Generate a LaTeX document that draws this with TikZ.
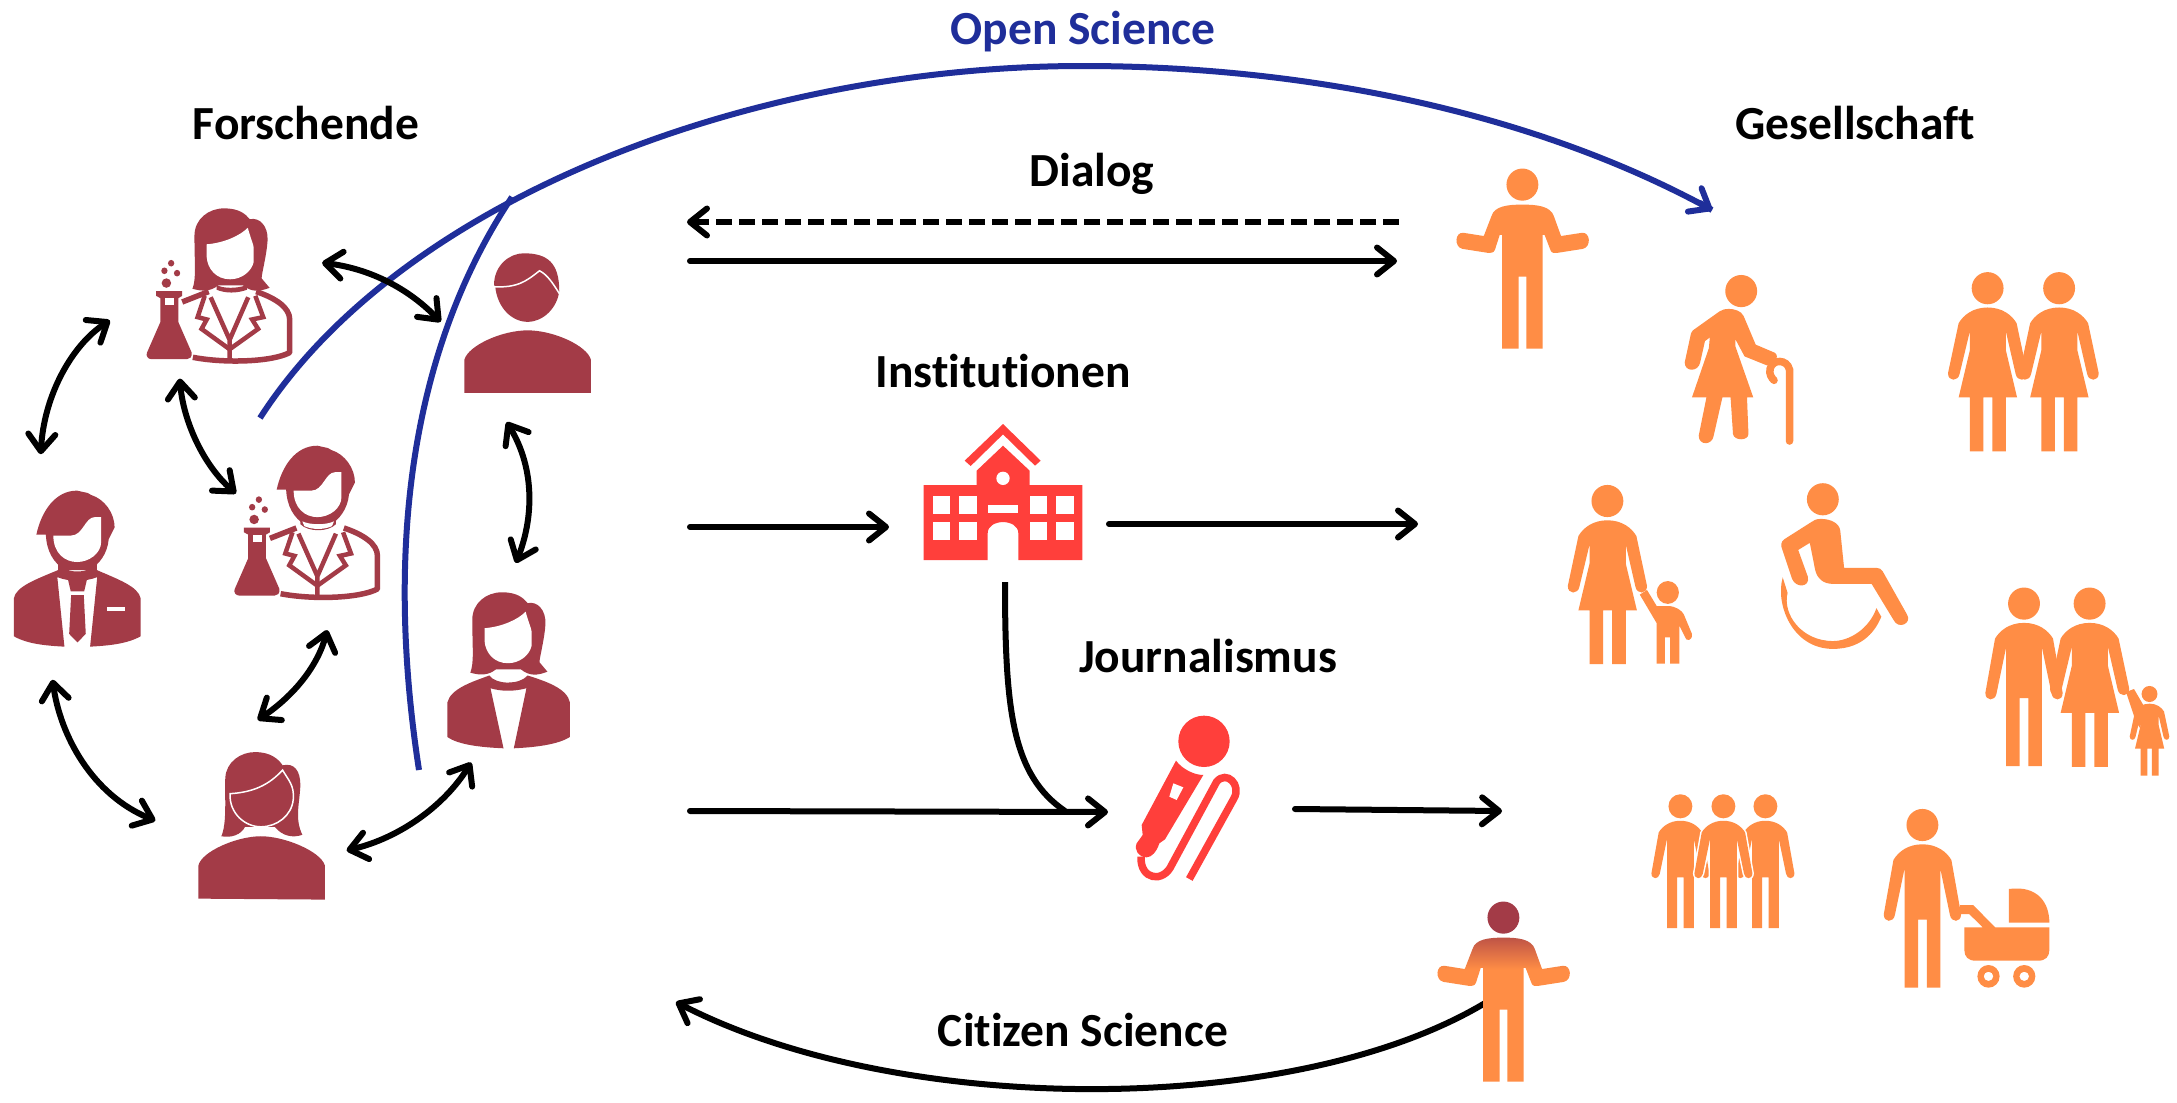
\documentclass[tikz,border=0pt]{standalone}
\usepackage{fontspec}
\setmainfont[Ligatures=NoCommon]{Carlito}
\usetikzlibrary{arrows.meta}
\definecolor{wine}{HTML}{A33B47}
\definecolor{orangeC}{HTML}{FF8D45}
\definecolor{redC}{HTML}{FF3F3B}
\definecolor{blueC}{HTML}{1F2E9A}
\pgfdeclareverticalshading{citizenshade}{100bp}{color(0bp)=(orangeC); color(64bp)=(orangeC); color(75bp)=(wine!70!orangeC); color(100bp)=(wine!70!orangeC)}
\tikzset{
  label/.style={font=\fontsize{47.5}{47.5}\selectfont\bfseries,text=black,inner sep=0pt},
  arr/.style={line width=6pt,-{Straight Barb[length=17pt,width=27pt,round]},line cap=round},
  darr/.style={line width=6pt,{Straight Barb[length=17pt,width=27pt,round]}-{Straight Barb[length=17pt,width=27pt,round]},line cap=round},
  bluel/.style={draw=blueC,line width=6pt},
  zone/.style={shift={(0,180)},xscale=1/2.53,yscale=1/2.115},
  ztwo/.style={shift={(1420,150)},xscale=1/2.07,yscale=1/2.8},
  zthree/.style={shift={(1420,700)},xscale=1/2.07,yscale=1/3},
  zfour/.style={shift={(880,400)},scale=1/3}
}
% -- orange figures; local origin = head centre, units of the 2.07 x 2.8 grid
\newcommand{\figscope}[3]{\begin{scope}[shift={(#1,#2)},xscale=#3/2.07,yscale=#3/2.8]}
\newcommand{\dresspath}{(0,54) .. controls (-30,54) and (-50,75) .. (-60,98) -- (-82,238) .. controls (-82,262) and (-61,262) .. (-58,240) -- (-37,122) -- (-37,175) -- (-60,306) -- (-37,306) -- (-37,457) -- (-9,457) -- (-9,306) -- (10,306) -- (10,457) -- (38,457) -- (38,306) -- (61,306) -- (38,175) -- (38,122) -- (58,240) .. controls (61,262) and (82,262) .. (82,238) -- (60,98) .. controls (50,75) and (30,54) .. (0,54) -- cycle}
\newcommand{\manpath}{(0,54) .. controls (-30,54) and (-50,75) .. (-60,98) -- (-80,250) .. controls (-80,274) and (-60,274) .. (-57,252) -- (-37,122) -- (-37,455) -- (-9,455) -- (-9,265) -- (9,265) -- (9,455) -- (37,455) -- (37,122) -- (57,252) .. controls (60,274) and (80,274) .. (80,250) -- (60,98) .. controls (50,75) and (30,54) .. (0,54) -- cycle}
\newcommand{\shrugpath}{(-42,459) -- (-42,141) -- (-47,141) -- (-57,183) .. controls (-60,192) and (-66,192) .. (-72,191) -- (-124,180) .. controls (-142,175) and (-140,132) .. (-122,135) -- (-80,144) -- (-64,88) .. controls (-58,60) and (-30,56) .. (0,56) .. controls (30,56) and (58,60) .. (65,88) -- (80,144) -- (123,135) .. controls (141,132) and (143,175) .. (125,180) -- (73,191) .. controls (65,192) and (60,192) .. (58,183) -- (46,141) -- (42,141) -- (42,459) -- (8,459) -- (8,258) -- (-8,258) -- (-8,459) -- cycle}
\newcommand{\womanfig}[3]{\figscope{#1}{#2}{#3}\fill[orangeC] (0,0) ellipse (33 and 45); \fill[orangeC] \dresspath;\end{scope}}
\newcommand{\manfig}[3]{\figscope{#1}{#2}{#3}\fill[orangeC] (0,0) ellipse (33 and 45); \fill[orangeC] \manpath;\end{scope}}
% -- researchers
\newcommand{\labcoat}{%
  \draw[wine,line width=5.5pt,line join=round] (683,758) -- (750,736) (870,736) .. controls (920,750) and (955,770) .. (955,795) -- (955,865) .. controls (910,885) and (790,888) .. (710,875);
  \draw[wine,line width=4.5pt,line join=miter] (755,748) -- (803,838) -- (850,748) (803,838) -- (803,882);
  \draw[wine,line width=4.5pt,line join=miter] (740,745) -- (722,790) -- (745,795) -- (732,815) -- (803,858) -- (875,815) -- (860,795) -- (888,790) -- (868,745);
  \fill[wine] (617,735) -- (683,735) -- (683,745) -- (673,750) -- (673,800) -- (707,865) .. controls (708,875) and (702,879) .. (695,879) -- (605,879) .. controls (597,879) and (590,872) .. (594,865) -- (628,800) -- (628,750) -- (617,745) -- cycle;
  \fill[white] (639,750) rectangle (662,765);
  \fill[wine] (643,718) ellipse (12 and 10) (638,692) ellipse (8 and 7) (670,697) ellipse (8 and 7) (655,676) ellipse (8 and 7);
}
\newcommand{\manhead}{%
  \fill[wine] (92,750) .. controls (105,700) and (140,657) .. (195,657) -- (222,662) -- (230,666) .. controls (265,675) and (290,705) .. (290,735) -- (275,760) .. controls (272,790) and (250,815) .. (225,825) -- (165,825) .. controls (135,810) and (118,785) .. (116,750) -- cycle;
  \fill[white] (135,752) -- (180,752) .. controls (210,752) and (215,713) .. (240,713) -- (256,713) -- (256,765) .. controls (256,790) and (225,808) .. (195,808) .. controls (165,808) and (135,790) .. (135,752) -- cycle;
}
\newcommand{\womanhead}{%
  \fill[wine] (1190,1042) .. controls (1200,1020) and (1195,990) .. (1195,930) .. controls (1195,895) and (1230,872) .. (1270,872) .. controls (1310,872) and (1325,885) .. (1335,895) .. controls (1360,890) and (1382,910) .. (1380,940) .. controls (1378,970) and (1365,1010) .. (1365,1020) -- (1385,1040) .. controls (1360,1048) and (1340,1050) .. (1318,1035) -- (1255,1035) .. controls (1235,1048) and (1215,1048) .. (1190,1042) -- cycle;
  \fill[white] (1226,948) .. controls (1270,945) and (1310,930) .. (1330,913) .. controls (1335,930) and (1345,950) .. (1345,955) -- (1345,985) .. controls (1340,1005) and (1315,1022) .. (1285,1022) .. controls (1250,1022) and (1228,1000) .. (1226,975) -- cycle;
}
\begin{document}
\begin{tikzpicture}[x=1pt,y=-1pt]
\useasboundingbox (0,0) rectangle (2177,1103);
\fill[white] (0,0) rectangle (2177,1103);
% --- coordinates for connectors
\coordinate (openA) at (260,418);
\coordinate (openB) at (1083,66);
\coordinate (openC) at (1712,210);
\coordinate (wallA) at (419,770);
\coordinate (wallB) at (512,197);
\begin{scope}[zone]
\coordinate (a1) at (278,297); \coordinate (a2) at (103,580);
\coordinate (b1) at (815,175); \coordinate (b2) at (1115,300);
\coordinate (c1) at (455,420); \coordinate (c2) at (597,663);
\coordinate (d1) at (1282,512); \coordinate (d2) at (1305,810);
\coordinate (e1) at (828,952); \coordinate (e2) at (652,1142);
\coordinate (f1) at (133,1057); \coordinate (f2) at (393,1355);
\coordinate (g1) at (1192,1232); \coordinate (g2) at (877,1418);
% suit man
\manhead
\fill[wine] (35,965) -- (35,885) .. controls (40,860) and (90,845) .. (147,825) -- (147,808) -- (165,822) .. controls (180,830) and (210,830) .. (228,822) -- (245,808) -- (245,825) .. controls (300,845) and (350,860) .. (356,885) -- (356,965) .. controls (320,982) and (270,985) .. (228,987) -- (246,840) .. controls (215,850) and (175,850) .. (145,840) -- (163,987) .. controls (120,985) and (70,982) .. (35,965) -- cycle;
\fill[wine] (172,845) -- (220,845) -- (213,870) -- (179,870) -- cycle;
\fill[wine] (180,878) -- (212,878) -- (217,960) -- (196,978) -- (175,960) -- cycle;
\fill[white] (271,903) rectangle (316,912);
% male scientist
\begin{scope}[shift={(608,-95)}]\manhead\end{scope}
\labcoat
\fill[wine] (760,715) -- (850,715) -- (850,728) .. controls (830,745) and (780,745) .. (760,728) -- cycle;
\fill[white] (765,722) .. controls (785,730) and (825,730) .. (845,722) -- (840,732) .. controls (820,740) and (790,740) .. (770,732) -- cycle;
% female scientist
\begin{scope}[shift={(-703,-812)}]\womanhead\end{scope}
\begin{scope}[shift={(-222,-500)}]\labcoat\end{scope}
\fill[wine] (548,222) .. controls (565,230) and (600,230) .. (625,222) -- (625,232) .. controls (600,240) and (570,240) .. (548,232) -- cycle;
% jacket woman
\womanhead
\fill[wine] (1132,1178) -- (1132,1105) .. controls (1140,1075) and (1200,1060) .. (1238,1048) .. controls (1255,1068) and (1315,1068) .. (1335,1048) .. controls (1380,1060) and (1435,1075) .. (1442,1105) -- (1442,1178) .. controls (1410,1195) and (1350,1200) .. (1300,1202) -- (1332,1075) .. controls (1300,1082) and (1270,1082) .. (1241,1075) -- (1274,1202) .. controls (1220,1200) and (1160,1195) .. (1132,1178) -- cycle;
% plain man
\fill[wine] (1175,450) -- (1175,380) .. controls (1185,350) and (1270,318) .. (1335,318) .. controls (1400,318) and (1485,350) .. (1495,380) -- (1495,450) -- cycle;
\fill[wine] (1250,222) .. controls (1250,180) and (1290,155) .. (1325,155) .. controls (1385,155) and (1415,175) .. (1415,235) .. controls (1410,270) and (1375,300) .. (1335,300) .. controls (1295,300) and (1258,270) .. (1253,225) -- cycle;
\draw[white,line width=1.5pt] (1247,226) .. controls (1310,228) and (1330,215) .. (1365,192) .. controls (1385,200) and (1400,220) .. (1415,240);
% plain woman
\fill[wine] (502,1520) -- (502,1450) .. controls (510,1420) and (600,1388) .. (660,1388) .. controls (720,1388) and (812,1420) .. (822,1450) -- (822,1522) -- cycle;
\fill[wine] (560,1388) .. controls (575,1360) and (568,1300) .. (570,1265) .. controls (572,1230) and (610,1210) .. (645,1210) .. controls (685,1210) and (705,1225) .. (715,1238) .. controls (745,1232) and (760,1250) .. (760,1280) .. controls (758,1320) and (745,1350) .. (765,1385) .. controls (740,1392) and (715,1388) .. (695,1368) -- (620,1368) .. controls (610,1385) and (585,1392) .. (560,1388) -- cycle;
\draw[white,line width=1.5pt] (582,1298) .. controls (640,1295) and (680,1280) .. (715,1248) .. controls (730,1270) and (745,1280) .. (742,1310) .. controls (738,1345) and (700,1368) .. (660,1368) .. controls (620,1368) and (580,1340) .. (582,1298) -- cycle;
\end{scope}
% --- connectors among researchers
\draw[bluel] (openA) .. controls (400,200) and (750,66) .. (openB) .. controls (1300,66) and (1530,110) .. (openC);
\draw[bluel] (wallA) .. controls (385,550) and (410,350) .. (wallB);
\draw[blueC,line width=6pt,line cap=round,-{Straight Barb[length=17pt,width=27pt,round]}] (1700,203) -- (openC);
\draw[darr] (a1) .. controls (72,345) and (44,395) .. (a2);
\draw[darr] (b1) .. controls (365,268) and (405,285) .. (b2);
\draw[darr] (c1) .. controls (183,420) and (203,465) .. (c2);
\draw[darr] (d1) .. controls (536,470) and (533,520) .. (d2);
\draw[darr] (e1) .. controls (318,665) and (295,695) .. (e2);
\draw[darr] (f1) .. controls (60,735) and (92,795) .. (f2);
\draw[darr] (g1) .. controls (445,805) and (400,838) .. (g2);
% --- labels
\node[label,text=blueC] (openl) at (1083,32) {Open Science};
\node[label] (forsch) at (306,123) {Forschende};
\node[label] (gesell) at (1855,123) {Gesellschaft};
\node[label] (dialog) at (1092,174) {Dialog};
\node[label] (instit) at (1003,371) {Institutionen};
\node[label] (journ) at (1208,656) {Journalismus};
\node[label] (citiz) at (1083,1030) {Citizen Science};
% --- middle arrows
\coordinate (dlA) at (1399,222); \coordinate (dlB) at (687,222);
\coordinate (drA) at (690,261); \coordinate (drB) at (1397,261);
\coordinate (inA) at (690,527); \coordinate (inB) at (889,527);
\coordinate (outA) at (1109,524); \coordinate (outB) at (1418,524);
\coordinate (joA) at (690,811); \coordinate (joB) at (1108,812);
\coordinate (bendA) at (1005,582); \coordinate (bendB) at (1065,811);
\coordinate (goA) at (1295,809); \coordinate (goB) at (1502,811);
\coordinate (csA) at (1490,1000); \coordinate (csB) at (676,1002);
\draw[arr,line cap=butt,dash pattern=on 16pt off 7pt] (dlA) -- (dlB);
\draw[arr] (drA) -- (drB);
\draw[arr] (inA) -- (inB);
\draw[arr] (outA) -- (outB);
\draw[arr] (joA) -- (joB);
\draw[line width=6pt] (bendA) .. controls (1005,710) and (1012,775) .. (bendB);
\draw[arr] (goA) -- (goB);
\draw[arr] (csA) .. controls (1300,1118) and (900,1118) .. (csB);
% --- school
\begin{scope}[zfour]
\fill[redC] (369,72) -- (482,182) -- (465,197) -- (369,103) -- (272,198) -- (254,182) -- cycle;
\fill[redC] (131,255) -- (290,255) -- (290,212) -- (369,137) -- (449,212) -- (449,255) -- (607,255) -- (607,480) -- (415,480) -- (415,400) .. controls (415,355) and (323,355) .. (323,400) -- (323,480) -- (131,480) -- cycle;
\fill[white] (369,235) circle (20);
\foreach \wx in {158,237,449,528}{\foreach \wy in {288,367}{\fill[white] (\wx,\wy) rectangle ++(53,53);}}
\fill[white] (323,314) rectangle (415,340);
% microphone
\fill[redC] (972,1024) circle (77);
\fill[redC] (888,1082) .. controls (905,1105) and (940,1125) .. (970,1125) -- (855,1318) -- (838,1330) .. controls (830,1355) and (815,1372) .. (800,1372) .. controls (775,1372) and (762,1350) .. (770,1330) -- (788,1305) -- (785,1275) -- cycle;
\fill[white] (880,1150) -- (910,1162) -- (890,1200) -- (868,1190) -- cycle;
\draw[redC,line width=7.5pt] (928,1437) -- (1062,1195) .. controls (1085,1155) and (1040,1110) .. (1010,1145) -- (875,1395) .. controls (850,1450) and (780,1440) .. (783,1370);
\end{scope}
% --- society
\figscope{1522.4}{184.6}{1}
\fill[orangeC] (0,0) ellipse (33 and 45); \fill[orangeC] \shrugpath;
\end{scope}
\begin{scope}[ztwo]
% old woman
\fill[orangeC] (665,395) ellipse (33 and 45);
\fill[orangeC] (640,445) .. controls (632,445) and (625,447) .. (620,452) -- (565,505) .. controls (562,510) and (560,515) .. (560,520) -- (548,595) .. controls (548,622) and (576,622) .. (580,595) -- (590,535) -- (600,525) -- (598,555) -- (563,693) -- (593,693) -- (577,800) .. controls (577,828) and (605,828) .. (608,800) -- (626,693) -- (643,693) -- (648,795) .. controls (650,815) and (680,815) .. (680,795) -- (677,693) -- (690,693) -- (653,550) -- (653,530) -- (672,578) -- (718,603) .. controls (735,600) and (745,580) .. (735,568) -- (695,545) -- (670,465) .. controls (665,450) and (650,445) .. (640,445) -- cycle;
\draw[orangeC,line width=7.5pt,line cap=round] (765,815) -- (765,615) .. controls (760,585) and (730,585) .. (725,612) .. controls (722,628) and (728,638) .. (733,645);
% wheelchair
\fill[orangeC] (834,978) ellipse (33 and 45);
\fill[orangeC] (830,1033) .. controls (820,1033) and (815,1037) .. (810,1042) -- (760,1085) .. controls (750,1092) and (747,1100) .. (748,1110) -- (770,1200) .. controls (778,1228) and (808,1225) .. (803,1195) -- (783,1120) -- (807,1100) -- (818,1175) .. controls (822,1200) and (835,1215) .. (855,1215) -- (935,1215) -- (980,1315) .. controls (990,1345) and (1020,1325) .. (1008,1300) -- (958,1180) .. controls (955,1174) and (952,1170) .. (945,1170) -- (878,1170) -- (870,1065) .. controls (868,1045) and (850,1033) .. (830,1033) -- cycle;
\fill[orangeC] (751,1197) .. controls (735,1270) and (770,1397) .. (855,1397) .. controls (920,1397) and (945,1340) .. (955,1307) -- (945,1283) .. controls (930,1340) and (890,1375) .. (855,1375) .. controls (790,1375) and (750,1300) .. (761,1240) -- cycle;
% child of first group
\fill[orangeC] (513,1239) ellipse (23 and 32);
\fill[orangeC] (470,1232) -- (490,1277) -- (513,1277) .. controls (530,1277) and (542,1290) .. (546,1300) -- (563,1355) .. controls (565,1375) and (550,1378) .. (548,1362) -- (537,1332) -- (537,1438) -- (518,1438) -- (518,1365) -- (507,1365) -- (507,1438) -- (490,1438) -- (490,1325) -- (455,1245) -- cycle;
\end{scope}
\womanfig{1987.6}{288.2}{1}
\womanfig{2059.1}{288.2}{1}
\womanfig{1607.4}{501}{1}
\manfig{2024}{603.6}{1}
\womanfig{2089.6}{603.6}{1}
\womanfig{2149.5}{694}{0.5}
\fill[orangeC] (2126,692) -- (2134,689) -- (2145,708) -- (2140,728) -- (2136,722) -- cycle;
% three people
\manfig{1680.4}{806.3}{0.75}
\manfig{1765.4}{806.3}{0.75}
\figscope{1723.4}{806.3}{0.75}
\fill[orangeC] (0,0) ellipse (33 and 45);
\fill[white,draw=white,line width=3pt] \manpath;
\fill[orangeC] \manpath;
\end{scope}
% pram man
\manfig{1922.4}{825}{1}
\begin{scope}[zthree]
\fill[orangeC] (1219,567) .. controls (1280,555) and (1303,610) .. (1303,668) -- (1219,668) -- cycle;
\fill[orangeC] (1118,615) -- (1145,615) -- (1191,682) -- (1303,682) -- (1303,750) .. controls (1303,770) and (1295,782) .. (1280,782) -- (1150,782) .. controls (1135,782) and (1127,770) .. (1127,750) -- (1127,682) -- (1165,682) -- (1137,642) -- (1118,642) -- cycle;
\fill[orangeC,even odd rule] (1177,829) ellipse (23 and 34) (1177,829) ellipse (10 and 14) (1251,829) ellipse (23 and 34) (1251,829) ellipse (10 and 14);
\end{scope}
% citizen
\figscope{1503.4}{917.6}{1}
\fill[wine] (0,0) ellipse (33 and 45);
\shade[shading=citizenshade] \shrugpath;
\end{scope}
\end{tikzpicture}
\end{document}
